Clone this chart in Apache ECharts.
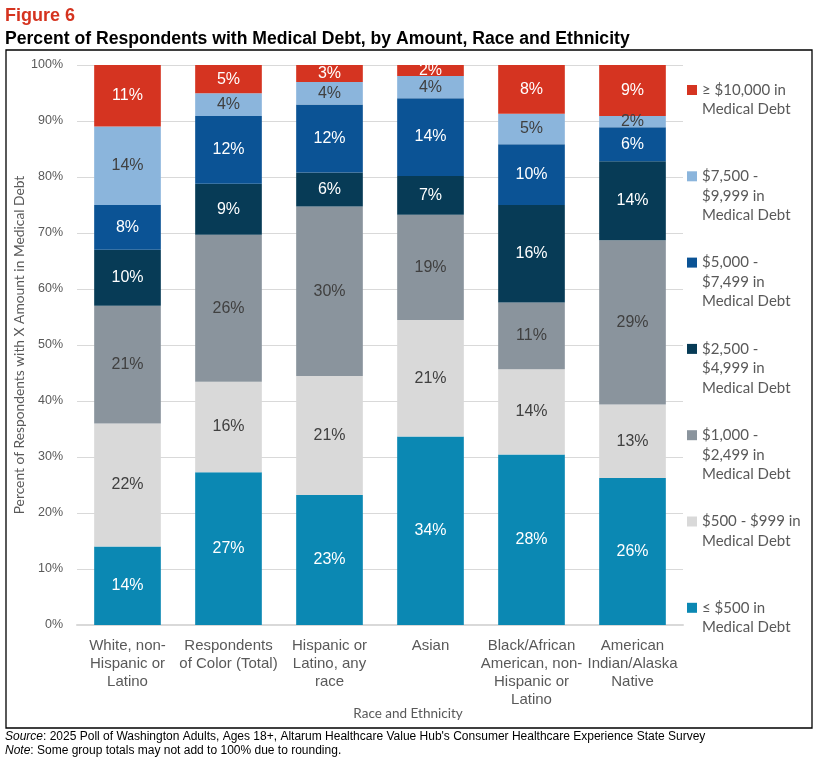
<!DOCTYPE html>
<html>
<head>
    <meta charset="UTF-8">
    <title>Figure 6</title>
    <script src="https://cdn.jsdelivr.net/npm/echarts@6/dist/echarts.min.js"></script>
    <style>
        html, body { margin: 0; padding: 0; background: #fff; }
        #main { width: 817px; height: 762px; }
    </style>
</head>
<body>
<div id="main"></div>
<script type="text/javascript">
    // categories (x axis)
    var categories = ['White, non-\nHispanic or\nLatino', 'Respondents\nof Color (Total)', 'Hispanic or\nLatino, any\nrace',
        'Asian', 'Black/African\nAmerican, non-\nHispanic or\nLatino', 'American\nIndian/Alaska\nNative'];

    // debt levels, bottom of the stack first
    var levels = ['≤ $500 in\nMedical Debt', '$500 - $999 in\nMedical Debt', '$1,000 -\n$2,499 in\nMedical Debt',
        '$2,500 -\n$4,999 in\nMedical Debt', '$5,000 -\n$7,499 in\nMedical Debt', '$7,500 -\n$9,999 in\nMedical Debt',
        '≥ $10,000 in\nMedical Debt'];

    // percentages shown on the bars
    var under500 = [14, 27, 23, 34, 28, 26];
    var d500to999 = [22, 16, 21, 21, 14, 13];
    var d1000to2499 = [21, 26, 30, 19, 11, 29];
    var d2500to4999 = [10, 9, 6, 7, 16, 14];
    var d5000to7499 = [8, 12, 12, 14, 10, 6];
    var d7500to9999 = [14, 4, 4, 4, 5, 2];
    var over10000 = [11, 5, 3, 2, 8, 9];

    var yTicks = [0, 10, 20, 30, 40, 50, 60, 70, 80, 90, 100];

    var colors = ['#0b88b3', '#d9d9d9', '#8a949d', '#073b56', '#0b5395', '#8bb5dc', '#d53421'];
    var labelColors = ['#fff', '#404040', '#404040', '#fff', '#fff', '#404040', '#fff'];

    var rows = [under500, d500to999, d1000to2499, d2500to4999, d5000to7499, d7500to9999, over10000];

    // each bar is drawn to 100% (group totals can be 99-101 or lower due to rounding)
    var totals = categories.map(function (c, i) {
        var s = 0;
        rows.forEach(function (r) { s += r[i]; });
        return s;
    });

    var myChart = echarts.init(document.getElementById('main'));

    var series = rows.map(function (row, k) {
        return {
            name: levels[k],
            type: 'bar',
            stack: 'total',
            barWidth: '66%',
            itemStyle: {color: colors[k]},
            label: {
                show: true,
                position: 'inside',
                color: labelColors[k],
                fontFamily: 'Liberation Sans',
                fontSize: 16,
                formatter: function (p) {
                    return rows[p.seriesIndex][p.dataIndex] + '%';
                }
            },
            data: row.map(function (v, i) {
                return v / totals[i] * 100;
            })
        };
    });

    // one legend per level so the marker sits on the first text line
    var lh = 19.5;
    var legends = [];
    for (var k = levels.length - 1; k >= 0; k--) {
        var n = levels[k].split('\n').length;
        var pos = levels.length - 1 - k;
        var iconY = 90 + 86.3 * pos;
        legends.push({
            data: [levels[k]],
            left: 687,
            top: iconY - (2 * n - 1) * lh / 2,
            padding: 0,
            itemWidth: 10,
            itemHeight: 10,
            itemGap: 4,
            icon: 'rect',
            selectedMode: false,
            formatter: (function (nn) {
                return function (name) {
                    return new Array(nn).join('\n') + name;
                };
            })(n),
            textStyle: {
                fontFamily: 'Lato',
                fontSize: 15,
                lineHeight: lh,
                color: '#595959'
            }
        });
    }

    var option = {
        backgroundColor: '#fff',
        animation: false,
        title: [
            {
                text: 'Figure 6',
                left: 5,
                top: 7,
                padding: 0,
                textStyle: {fontFamily: 'Liberation Sans', fontWeight: 'bold', fontSize: 18, color: '#d5331f'}
            },
            {
                text: 'Percent of Respondents with Medical Debt, by Amount, Race and Ethnicity',
                left: 5,
                top: 30,
                padding: 0,
                textStyle: {fontFamily: 'Liberation Sans', fontWeight: 'bold', fontSize: 17.6, color: '#000'}
            },
            {
                text: 'Race and Ethnicity',
                left: 408,
                textAlign: 'center',
                top: 707,
                padding: 0,
                textStyle: {fontFamily: 'Lato', fontWeight: 'normal', fontSize: 13.5, color: '#595959'}
            },
            {
                text: '{i|Source}: 2025 Poll of Washington Adults, Ages 18+, Altarum Healthcare Value Hub\'s Consumer Healthcare Experience State Survey\n{i|Note}: Some group totals may not add to 100% due to rounding.',
                left: 5,
                top: 730,
                padding: 0,
                textStyle: {
                    fontFamily: 'Liberation Sans', fontWeight: 'normal', fontSize: 12, color: '#000', lineHeight: 14,
                    rich: {i: {fontFamily: 'Liberation Sans', fontStyle: 'italic', fontSize: 12, color: '#000', lineHeight: 14}}
                }
            }
        ],
        graphic: [
            {
                type: 'rect',
                z: -1,
                shape: {x: 6, y: 50, width: 806, height: 678},
                style: {fill: 'none', stroke: '#000', lineWidth: 1.3}
            }
        ],
        legend: legends,
        grid: {
            left: 77,
            right: 134,
            top: 65,
            bottom: 137
        },
        xAxis: {
            type: 'category',
            data: categories,
            axisTick: {show: false},
            axisLine: {lineStyle: {color: '#d9d9d9', width: 2}},
            axisLabel: {
                interval: 0,
                margin: 12,
                fontFamily: 'Liberation Sans',
                fontSize: 15,
                lineHeight: 18,
                color: '#595959'
            }
        },
        yAxis: {
            type: 'value',
            min: yTicks[0],
            max: yTicks[yTicks.length - 1],
            interval: 10,
            name: 'Percent of Respondents with X Amount in Medical Debt',
            nameLocation: 'middle',
            nameGap: 50,
            nameMoveOverlap: false,
            nameTextStyle: {fontFamily: 'Lato', fontSize: 13.8, color: '#595959'},
            axisLine: {show: false},
            axisTick: {show: false},
            splitLine: {lineStyle: {color: '#d9d9d9'}},
            axisLabel: {
                margin: 14,
                formatter: '{value}%',
                fontFamily: 'Liberation Sans',
                fontSize: 12.5,
                color: '#595959'
            }
        },
        series: series
    };

    myChart.setOption(option);
</script>
</body>
</html>
